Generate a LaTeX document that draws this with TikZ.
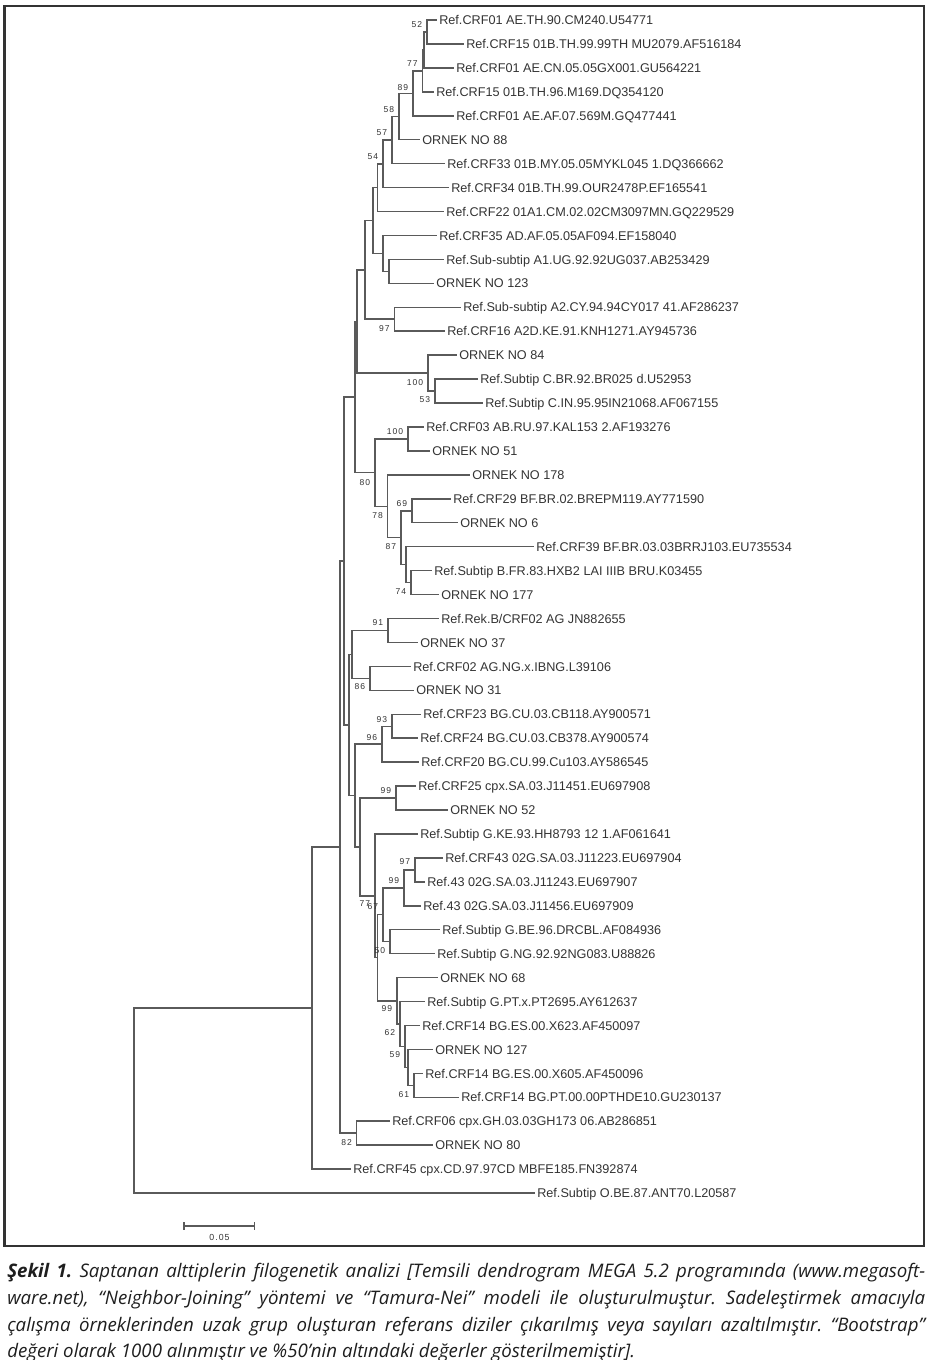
\documentclass[tikz,border=0pt]{standalone}
\usepackage{fontspec}
\setmainfont{Liberation Sans}
\newfontfamily\capfont{Open Sans}
\newfontfamily\bsfont[LetterSpace=12]{Liberation Sans}
\definecolor{treegray}{HTML}{5A5A5A}
\definecolor{txtgray}{HTML}{333333}
\definecolor{capcol}{HTML}{1E1E1E}
\frenchspacing
\begin{document}
\begin{tikzpicture}[x=0.75pt,y=-0.75pt,
  leaf/.style={anchor=west, inner sep=1.5pt, text=txtgray, text height=7pt, text depth=0pt,
    font=\fontsize{9.5}{11}\selectfont},
  bs/.style={anchor=east, inner sep=0pt, text=txtgray, font=\bsfont\fontsize{6.4}{7}\selectfont},
  edge/.style={draw=treegray, line width=1.1pt},
  capline/.style={anchor=base west, inner sep=0pt, text=capcol, font=\capfont\itshape\fontsize{14}{16}\selectfont}]
\useasboundingbox (0,0) rectangle (932,1360);
% frame
\draw[line width=1.6pt, draw=txtgray] (4.5,6) rectangle (924,1246);
% leaves
\node[leaf] (l1) at (437,20.0) {Ref.CRF01 AE.TH.90.CM240.U54771};
\node[leaf] (l2) at (464,43.9) {Ref.CRF15 01B.TH.99.99TH MU2079.AF516184};
\node[leaf] (l3) at (454,67.9) {Ref.CRF01 AE.CN.05.05GX001.GU564221};
\node[leaf] (l4) at (434,91.8) {Ref.CRF15 01B.TH.96.M169.DQ354120};
\node[leaf] (l5) at (454,115.8) {Ref.CRF01 AE.AF.07.569M.GQ477441};
\node[leaf] (l6) at (420,139.7) {ORNEK NO 88};
\node[leaf] (l7) at (445,163.6) {Ref.CRF33 01B.MY.05.05MYKL045 1.DQ366662};
\node[leaf] (l8) at (449,187.6) {Ref.CRF34 01B.TH.99.OUR2478P.EF165541};
\node[leaf] (l9) at (444,211.5) {Ref.CRF22 01A1.CM.02.02CM3097MN.GQ229529};
\node[leaf] (l10) at (437,235.5) {Ref.CRF35 AD.AF.05.05AF094.EF158040};
\node[leaf] (l11) at (444,259.4) {Ref.Sub-subtip A1.UG.92.92UG037.AB253429};
\node[leaf] (l12) at (434,283.3) {ORNEK NO 123};
\node[leaf] (l13) at (461,307.3) {Ref.Sub-subtip A2.CY.94.94CY017 41.AF286237};
\node[leaf] (l14) at (445,331.2) {Ref.CRF16 A2D.KE.91.KNH1271.AY945736};
\node[leaf] (l15) at (457,355.2) {ORNEK NO 84};
\node[leaf] (l16) at (478,379.1) {Ref.Subtip C.BR.92.BR025 d.U52953};
\node[leaf] (l17) at (483,403.0) {Ref.Subtip C.IN.95.95IN21068.AF067155};
\node[leaf] (l18) at (424,427.0) {Ref.CRF03 AB.RU.97.KAL153 2.AF193276};
\node[leaf] (l19) at (430,450.9) {ORNEK NO 51};
\node[leaf] (l20) at (470,474.9) {ORNEK NO 178};
\node[leaf] (l21) at (451,498.8) {Ref.CRF29 BF.BR.02.BREPM119.AY771590};
\node[leaf] (l22) at (458,522.7) {ORNEK NO 6};
\node[leaf] (l23) at (534,546.7) {Ref.CRF39 BF.BR.03.03BRRJ103.EU735534};
\node[leaf] (l24) at (432,570.6) {Ref.Subtip B.FR.83.HXB2 LAI IIIB BRU.K03455};
\node[leaf] (l25) at (439,594.6) {ORNEK NO 177};
\node[leaf] (l26) at (439,618.5) {Ref.Rek.B/CRF02 AG JN882655};
\node[leaf] (l27) at (418,642.4) {ORNEK NO 37};
\node[leaf] (l28) at (411,666.4) {Ref.CRF02 AG.NG.x.IBNG.L39106};
\node[leaf] (l29) at (414,690.3) {ORNEK NO 31};
\node[leaf] (l30) at (421,714.3) {Ref.CRF23 BG.CU.03.CB118.AY900571};
\node[leaf] (l31) at (418,738.2) {Ref.CRF24 BG.CU.03.CB378.AY900574};
\node[leaf] (l32) at (419,762.1) {Ref.CRF20 BG.CU.99.Cu103.AY586545};
\node[leaf] (l33) at (416,786.1) {Ref.CRF25 cpx.SA.03.J11451.EU697908};
\node[leaf] (l34) at (448,810.0) {ORNEK NO 52};
\node[leaf] (l35) at (418,834.0) {Ref.Subtip G.KE.93.HH8793 12 1.AF061641};
\node[leaf] (l36) at (443,857.9) {Ref.CRF43 02G.SA.03.J11223.EU697904};
\node[leaf] (l37) at (425,881.8) {Ref.43 02G.SA.03.J11243.EU697907};
\node[leaf] (l38) at (421,905.8) {Ref.43 02G.SA.03.J11456.EU697909};
\node[leaf] (l39) at (440,929.7) {Ref.Subtip G.BE.96.DRCBL.AF084936};
\node[leaf] (l40) at (435,953.7) {Ref.Subtip G.NG.92.92NG083.U88826};
\node[leaf] (l41) at (438,977.6) {ORNEK NO 68};
\node[leaf] (l42) at (425,1001.5) {Ref.Subtip G.PT.x.PT2695.AY612637};
\node[leaf] (l43) at (420,1025.5) {Ref.CRF14 BG.ES.00.X623.AF450097};
\node[leaf] (l44) at (433,1049.4) {ORNEK NO 127};
\node[leaf] (l45) at (423,1073.4) {Ref.CRF14 BG.ES.00.X605.AF450096};
\node[leaf] (l46) at (459,1097.3) {Ref.CRF14 BG.PT.00.00PTHDE10.GU230137};
\node[leaf] (l47) at (390,1121.2) {Ref.CRF06 cpx.GH.03.03GH173 06.AB286851};
\node[leaf] (l48) at (433,1145.2) {ORNEK NO 80};
\node[leaf] (l49) at (351,1169.1) {Ref.CRF45 cpx.CD.97.97CD MBFE185.FN392874};
\node[leaf] (l50) at (535,1193.1) {Ref.Subtip O.BE.87.ANT70.L20587};
% internal nodes
\coordinate (n52) at (427,32.0);
\coordinate (n77a) at (424,50.0);
\coordinate (n77) at (422.5,70.9);
\coordinate (n89) at (413,93.3);
\coordinate (n58) at (399,116.5);
\coordinate (n57) at (392,140.1);
\coordinate (n54) at (383,163.8);
\coordinate (nB) at (377.7,187.7);
\coordinate (n123) at (389,271.4);
\coordinate (n35) at (383,253.4);
\coordinate (nC) at (373,220.6);
\coordinate (n97) at (394.5,319.2);
\coordinate (nD) at (365,269.9);
\coordinate (n53) at (435,391.0);
\coordinate (n100C) at (428,373.1);
\coordinate (nE1) at (357,321.5);
\coordinate (n100b) at (408,439.0);
\coordinate (n69) at (412,510.8);
\coordinate (n74) at (411,582.6);
\coordinate (n39) at (406,564.6);
\coordinate (n87) at (401,537.7);
\coordinate (n78) at (387.7,506.3);
\coordinate (n80) at (375,472.6);
\coordinate (nE2) at (355,397.1);
\coordinate (n91) at (388,630.5);
\coordinate (n86) at (370,678.3);
\coordinate (nG) at (352,654.4);
\coordinate (n93) at (392,726.3);
\coordinate (n96) at (382,744.2);
\coordinate (n99a) at (396,798.0);
\coordinate (n97b) at (415,869.9);
\coordinate (n99b) at (404,887.8);
\coordinate (nGa) at (390,941.7);
\coordinate (n67) at (383,914.7);
\coordinate (n61) at (414,1085.4);
\coordinate (nq) at (408,1067.4);
\coordinate (n59) at (405,1046.5);
\coordinate (n62) at (400,1024.0);
\coordinate (n99c) at (397,1000.8);
\coordinate (nY) at (377.5,957.7);
\coordinate (n77g) at (375,895.9);
\coordinate (n360) at (360,847.0);
\coordinate (n355) at (355,795.6);
\coordinate (n349) at (349,725.0);
\coordinate (nF) at (344,561.0);
\coordinate (n82) at (356.7,1133.2);
\coordinate (nH) at (340,847.1);
\coordinate (n312) at (312,1008.1);
\coordinate (root) at (134,1100.6);
% branches
\foreach \p/\c in {n52/l1.west, n52/l2.west, n77a/n52, n77a/l3.west, n77/n77a, n77/l4.west,
  n89/n77, n89/l5.west, n58/n89, n58/l6.west, n57/n58, n57/l7.west, n54/n57, n54/l8.west,
  nB/n54, nB/l9.west, n123/l11.west, n123/l12.west, n35/l10.west, n35/n123, nC/nB, nC/n35,
  n97/l13.west, n97/l14.west, nD/nC, nD/n97, n53/l16.west, n53/l17.west, n100C/l15.west, n100C/n53,
  nE1/nD, nE1/n100C, n100b/l18.west, n100b/l19.west, n69/l21.west, n69/l22.west,
  n74/l24.west, n74/l25.west, n39/l23.west, n39/n74, n87/n69, n87/n39, n78/l20.west, n78/n87,
  n80/n100b, n80/n78, nE2/nE1, nE2/n80, n91/l26.west, n91/l27.west, n86/l28.west, n86/l29.west,
  nG/n91, nG/n86, n93/l30.west, n93/l31.west, n96/n93, n96/l32.west, n99a/l33.west, n99a/l34.west,
  n97b/l36.west, n97b/l37.west, n99b/n97b, n99b/l38.west, nGa/l39.west, nGa/l40.west,
  n67/n99b, n67/nGa, n61/l45.west, n61/l46.west, nq/l44.west, nq/n61, n59/l43.west, n59/nq,
  n62/l42.west, n62/n59, n99c/l41.west, n99c/n62, nY/n67, nY/n99c, n77g/l35.west, n77g/nY,
  n360/n99a, n360/n77g, n355/n96, n355/n360, n349/nG, n349/n355, nF/nE2, nF/n349,
  n82/l47.west, n82/l48.west, nH/nF, nH/n82, n312/nH, n312/l49.west, root/n312, root/l50.west}
  \draw[edge] (\p) |- (\c);
% bootstrap values
\foreach \n/\dy/\v in {n52/-7/52, n77/-7/77, n89/-6/89, n58/-6.5/58, n57/-7/57, n54/-7/54,
  n97/9/97, n100C/9/100, n53/9/53, n100b/-7/100, n80/9.5/80, n69/-7/69, n78/9.5/78, n87/9/87,
  n74/9/74, n91/-7.5/91, n86/8/86, n93/-7/93, n96/-7/96, n99a/-7/99, n97b/-8/97, n99b/-7/99,
  n77g/8/77, n67/-8.5/67, nGa/9/50, n99c/8/99, n62/9/62, n59/8.5/59, n61/9.5/61, n82/9.5/82}
  \path (\n) ++(-4.5,\dy) node[bs] {\v};
% scale bar
\coordinate (sbl) at (184,1226);
\coordinate (sbr) at (254.5,1226);
\draw[edge] (sbl) -- (sbr);
\draw[edge] ([yshift=2.8pt]sbl) -- ([yshift=-2.8pt]sbl);
\draw[edge] ([yshift=2.8pt]sbr) -- ([yshift=-2.8pt]sbr);
\node[inner sep=0pt, text=txtgray, font=\bsfont\fontsize{6.6}{7}\selectfont] (sblab) at (219.5,1237.5) {0.05};
% caption
\node[capline] (cap1) at (7,1277) {\makebox[688.5pt][s]{\textbf{Şekil 1.} Saptanan alttiplerin filogenetik analizi [Temsili dendrogram MEGA 5.2 programında (www.megasoft-}};
\node[capline] (cap2) at (7,1304) {\makebox[688.5pt][s]{ware.net), “Neighbor-Joining” yöntemi ve “Tamura-Nei” modeli ile oluşturulmuştur. Sadeleştirmek amacıyla}};
\node[capline] (cap3) at (7,1331) {\makebox[688.5pt][s]{çalışma örneklerinden uzak grup oluşturan referans diziler çıkarılmış veya sayıları azaltılmıştır. “Bootstrap”}};
\node[capline] (cap4) at (7,1357) {değeri olarak 1000 alınmıştır ve \%50’nin altındaki değerler gösterilmemiştir].};
\end{tikzpicture}
\end{document}
